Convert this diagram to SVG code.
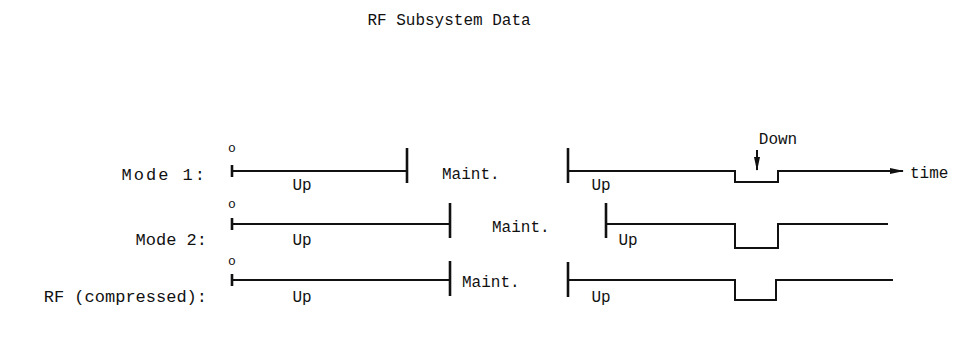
<svg xmlns="http://www.w3.org/2000/svg" width="978" height="337" viewBox="0 0 978 337">
<style>
text{font-family:"Liberation Mono","DejaVu Sans Mono",monospace;font-size:16px;fill:#111}
.lb{font-size:17px}
.o{font-size:13px}
.ln{fill:none;stroke:#111;stroke-width:2}
.tk{stroke:#111;stroke-width:2.6}
</style>
<defs>
<marker id="ah" markerWidth="14" markerHeight="8" refX="13" refY="4" orient="auto" markerUnits="userSpaceOnUse">
<path d="M0,1 L14,4 L0,7 Z" fill="#111"/>
</marker>
</defs>
<rect width="978" height="337" fill="#fff"/>
<text x="449" y="25" text-anchor="middle">RF Subsystem Data</text>
<g id="labels">
<text class="lb" x="207" y="180" text-anchor="end" letter-spacing="2">Mode 1:</text>
<text class="lb" x="207" y="245" text-anchor="end">Mode 2:</text>
<text class="lb" x="207" y="302" text-anchor="end">RF (compressed):</text>
</g>
<g id="mode1">
<text class="o" x="232" y="152" text-anchor="middle">o</text>
<text x="302" y="190" text-anchor="middle">Up</text>
<text x="442" y="179">Maint.</text>
<text x="601" y="190" text-anchor="middle">Up</text>
<text x="778" y="144" text-anchor="middle">Down</text>
<text x="910" y="178">time</text>
</g>
<g id="mode2">
<text class="o" x="232" y="208" text-anchor="middle">o</text>
<text x="302" y="245" text-anchor="middle">Up</text>
<text x="492" y="232">Maint.</text>
<text x="628" y="245" text-anchor="middle">Up</text>
</g>
<g id="rf">
<text class="o" x="232" y="265" text-anchor="middle">o</text>
<text x="302" y="302" text-anchor="middle">Up</text>
<text x="462" y="287">Maint.</text>
<text x="601" y="302" text-anchor="middle">Up</text>
</g>
<g id="connectors">
<line class="ln" x1="232" y1="171" x2="407" y2="171"/>
<line class="tk" x1="232" y1="165" x2="232" y2="177"/>
<line class="tk" x1="407" y1="148" x2="407" y2="183"/>
<line class="tk" x1="568" y1="148" x2="568" y2="183"/>
<path class="ln" d="M568 171 H735 V182 H778 V171 H903" marker-end="url(#ah)"/>
<line class="ln" x1="757" y1="150" x2="757" y2="170" marker-end="url(#ah)"/>

<line class="ln" x1="232" y1="224" x2="450" y2="224"/>
<line class="tk" x1="232" y1="218" x2="232" y2="230"/>
<line class="tk" x1="450" y1="203" x2="450" y2="238"/>
<line class="tk" x1="606" y1="203" x2="606" y2="238"/>
<path class="ln" d="M606 224 H735 V248 H778 V224 H888"/>

<line class="ln" x1="232" y1="280" x2="450" y2="280"/>
<line class="tk" x1="232" y1="274" x2="232" y2="286"/>
<line class="tk" x1="450" y1="261" x2="450" y2="296"/>
<line class="tk" x1="568" y1="262" x2="568" y2="297"/>
<path class="ln" d="M568 280 H735 V300 H776 V280 H893"/>
</g>
</svg>
